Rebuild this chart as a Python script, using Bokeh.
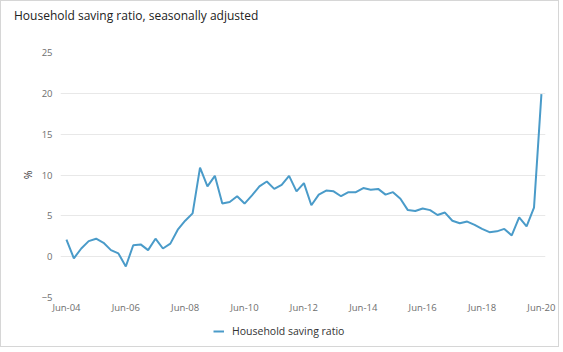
from bokeh.plotting import figure
from bokeh.layouts import column
from bokeh.models import FixedTicker, Legend, LegendItem, ColumnDataSource, Div, Range1d
from bokeh.embed import file_html
from bokeh.resources import INLINE

# Quarterly household saving ratio, Jun-04 .. Jun-20 (%)
saving_ratio = [2.1, -0.2, 1.0, 1.9, 2.2, 1.7, 0.8, 0.4, -1.2, 1.4,
                1.5, 0.8, 2.2, 1.0, 1.6, 3.3, 4.4, 5.3, 10.9, 8.6,
                9.9, 6.5, 6.7, 7.4, 6.5, 7.5, 8.6, 9.2, 8.3, 8.8,
                9.9, 8.0, 9.0, 6.3, 7.6, 8.1, 8.0, 7.4, 7.9, 7.9,
                8.4, 8.2, 8.3, 7.6, 7.9, 7.1, 5.7, 5.6, 5.9, 5.7,
                5.1, 5.4, 4.4, 4.1, 4.3, 3.9, 3.4, 3.0, 3.1, 3.4,
                2.6, 4.8, 3.7, 6.0, 19.9]
months = ["Jun", "Sep", "Dec", "Mar"]
quarters = [f"{months[i % 4]}-{4 + (i + 1) // 4:02d}" for i in range(len(saving_ratio))]
tick_labels = ["Jun-04", "Jun-06", "Jun-08", "Jun-10", "Jun-12",
               "Jun-14", "Jun-16", "Jun-18", "Jun-20"]
y_ticks = [-5, 0, 5, 10, 15, 20, 25]
title_text = "Household saving ratio, seasonally adjusted"
series_name = "Household saving ratio"

x = list(range(len(saving_ratio)))
tick_pos = [quarters.index(t) for t in tick_labels]

FONT = "Open Sans"
GRAY = "#6e6e6e"
LINE = "#4a9bc9"
W = 557

title_div = Div(text=title_text, width=W, height=40, margin=0,
                styles={"font-family": FONT, "font-size": "12px", "color": "#222222",
                        "padding-left": "13px", "padding-top": "6px",
                        "line-height": "18px", "box-sizing": "border-box"})

src = ColumnDataSource(dict(x=x, y=saving_ratio))

p = figure(frame_width=485, frame_height=245, output_backend="svg", toolbar_location=None,
           x_range=(-0.8, 64.55), y_range=(-5, 25),
           min_border_left=59, min_border_right=13, min_border_top=11,
           min_border_bottom=20, margin=0)
r = p.line("x", "y", source=src, line_color=LINE, line_width=2)

p.xaxis.ticker = FixedTicker(ticks=tick_pos)
p.xaxis.major_label_overrides = {pos: lab for pos, lab in zip(tick_pos, tick_labels)}
p.yaxis.ticker = FixedTicker(ticks=y_ticks)
p.yaxis.axis_label = "%"

for ax in (p.xaxis[0], p.yaxis[0]):
    ax.axis_line_color = None
    ax.major_tick_line_color = None
    ax.minor_tick_line_color = None
    ax.major_tick_out = 0
    ax.major_tick_in = 0
    ax.minor_tick_out = 0
    ax.minor_tick_in = 0
    ax.major_label_text_font = FONT
    ax.major_label_text_font_size = "9.5px"
    ax.major_label_text_color = GRAY
p.xaxis.major_label_standoff = 3
p.yaxis.major_label_standoff = 8
p.yaxis.axis_label_text_font = FONT
p.yaxis.axis_label_text_font_size = "10.5px"
p.yaxis.axis_label_text_font_style = "normal"
p.yaxis.axis_label_text_color = "#333333"
p.yaxis.axis_label_standoff = 4

p.xgrid.grid_line_color = None
p.ygrid.grid_line_color = "#e8e8e8"
p.ygrid.ticker = FixedTicker(ticks=y_ticks)
p.outline_line_color = None

# legend strip: same series drawn off-range, used only as the legend key
leg = figure(width=W, height=29, output_backend="svg", toolbar_location=None,
             x_range=p.x_range, y_range=Range1d(100, 101),
             x_axis_location=None, y_axis_location=None,
             min_border=0, margin=0)
leg.grid.visible = False
leg.outline_line_color = None
lr = leg.line("x", "y", source=src, line_color=LINE, line_width=2)
legend = Legend(items=[LegendItem(label=series_name, renderers=[lr])],
                orientation="horizontal", location=(153, 8),
                label_text_font=FONT, label_text_font_size="10.5px",
                label_text_color="#333333", glyph_width=11, glyph_height=10,
                border_line_color=None, background_fill_alpha=0, margin=0,
                padding=2, label_standoff=8)
leg.add_layout(legend, "center")

layout = column(title_div, p, leg, spacing=0, margin=0,
                styles={"border": "1px solid #d6d6d6", "background": "white"})

open("out.html", "w").write(file_html(layout, INLINE))
